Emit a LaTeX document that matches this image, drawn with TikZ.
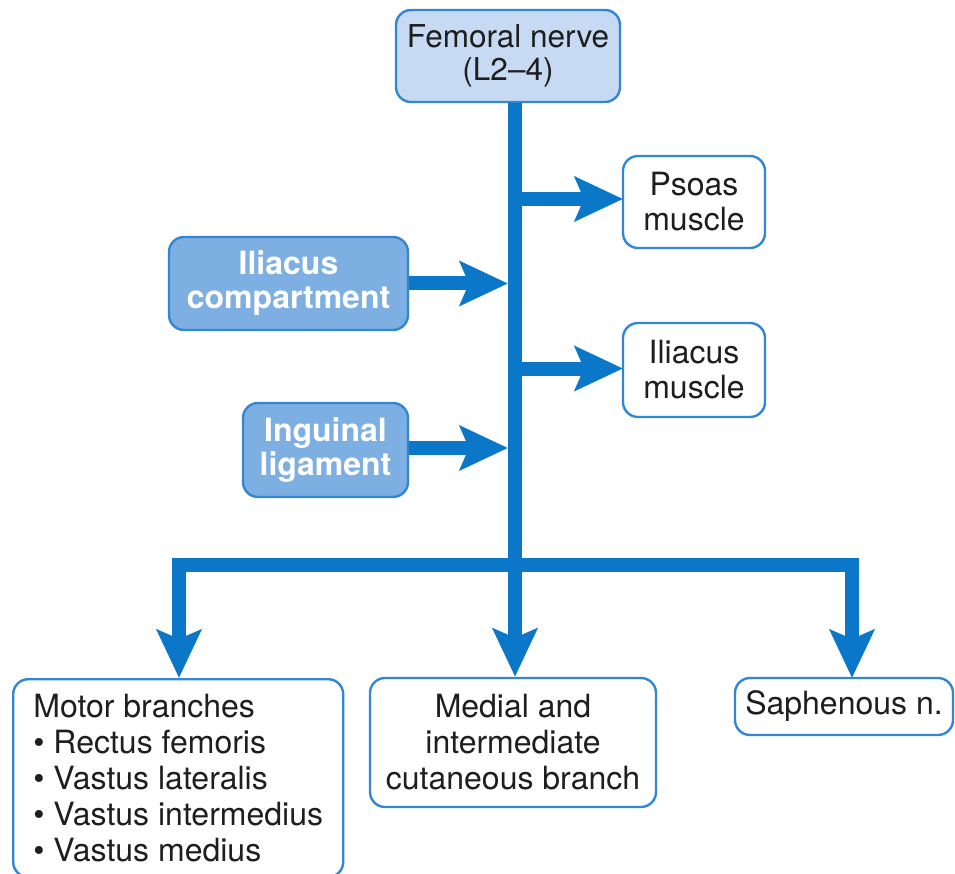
\documentclass[tikz,border=0pt]{standalone}
\usepackage{fontspec}
\setmainfont{TeX Gyre Heros}
\usetikzlibrary{arrows.meta,positioning}
\definecolor{nerveblue}{HTML}{0A77C8}
\definecolor{boxline}{HTML}{3286D3}
\definecolor{palefill}{HTML}{C6DAF3}
\definecolor{midfill}{HTML}{7EAFE3}
\definecolor{inktext}{HTML}{1E1E1E}
\newcommand\dotitem{\textbullet\ }
\tikzset{
  boxed/.style={draw=boxline, line width=2.4pt, rounded corners=15pt,
    align=center, inner sep=0pt, text=inktext,
    font=\fontsize{32}{35}\selectfont},
  target/.style={boxed, fill=white},
  source/.style={boxed, fill=midfill, text=white,
    font=\fontsize{32}{34}\selectfont\bfseries},
  nerve/.style={draw=nerveblue, line width=14pt},
  arr/.style={nerve, -{Stealth[length=48pt, width=44pt, inset=9pt]}},
}
\begin{document}
\begin{tikzpicture}[x=1pt, y=-1pt]
		\useasboundingbox (0,0) rectangle (955,874);
		% boxes
		\node[boxed, fill=palefill, minimum width=224pt, minimum height=92pt, font=\fontsize{31.5}{33}\selectfont] (femoral) at (508,56) {Femoral nerve\\(L2--4)};
		\node[target, minimum width=142pt, minimum height=92pt] (psoas) at (694,202) {Psoas\\muscle};
		\node[target, minimum width=142pt, minimum height=94pt] (iliacusm) at (694,370) {Iliacus\\muscle};
		\node[source, minimum width=239pt, minimum height=93pt] (iliacusc) at (288.5,283.5) {Iliacus\\compartment};
		\node[source, minimum width=165pt, minimum height=94pt] (inguinal) at (325.5,450) {Inguinal\\ligament};
		\node[target, anchor=north west, align=left, minimum width=330pt, inner xsep=19pt, inner ysep=15pt,
			font=\fontsize{32}{36}\selectfont] (motor) at (12,678)
			{Motor branches\\\dotitem Rectus femoris\\\dotitem Vastus lateralis\\\dotitem Vastus intermedius\\\dotitem Vastus medius};
		\node[target, minimum width=286pt, minimum height=129pt, font=\fontsize{32}{36}\selectfont] (medial) at (513,742.5) {Medial and\\intermediate\\cutaneous branch};
		\node[target, minimum width=218pt, minimum height=57pt] (saphenous) at (844,706.5) {Saphenous n.};
		% trunk and branches
		\coordinate (split) at (515,565);
		\coordinate (leftleg) at (179,678);
		\coordinate (rightleg) at (852,678);
		\draw[nerve] (femoral.south -| split) -- (split);
		\draw[nerve, line join=miter, {Stealth[length=48pt, width=44pt, inset=9pt]}-{Stealth[length=48pt, width=44pt, inset=9pt]}]
			(leftleg) |- (split) -| (rightleg);
		\draw[arr] (split) -- (split |- medial.north);
		\draw[arr] (psoas.west -| split) ++(0,-3) -- ++(108,0);
		\draw[arr] (iliacusm.west -| split) ++(0,-1.5) -- ++(108,0);
		\draw[arr] (iliacusc.east) -- (iliacusc.east -| 508,0);
		\draw[arr] (inguinal.east) ++(0,-2) -- (508,448);
\end{tikzpicture}
\end{document}
